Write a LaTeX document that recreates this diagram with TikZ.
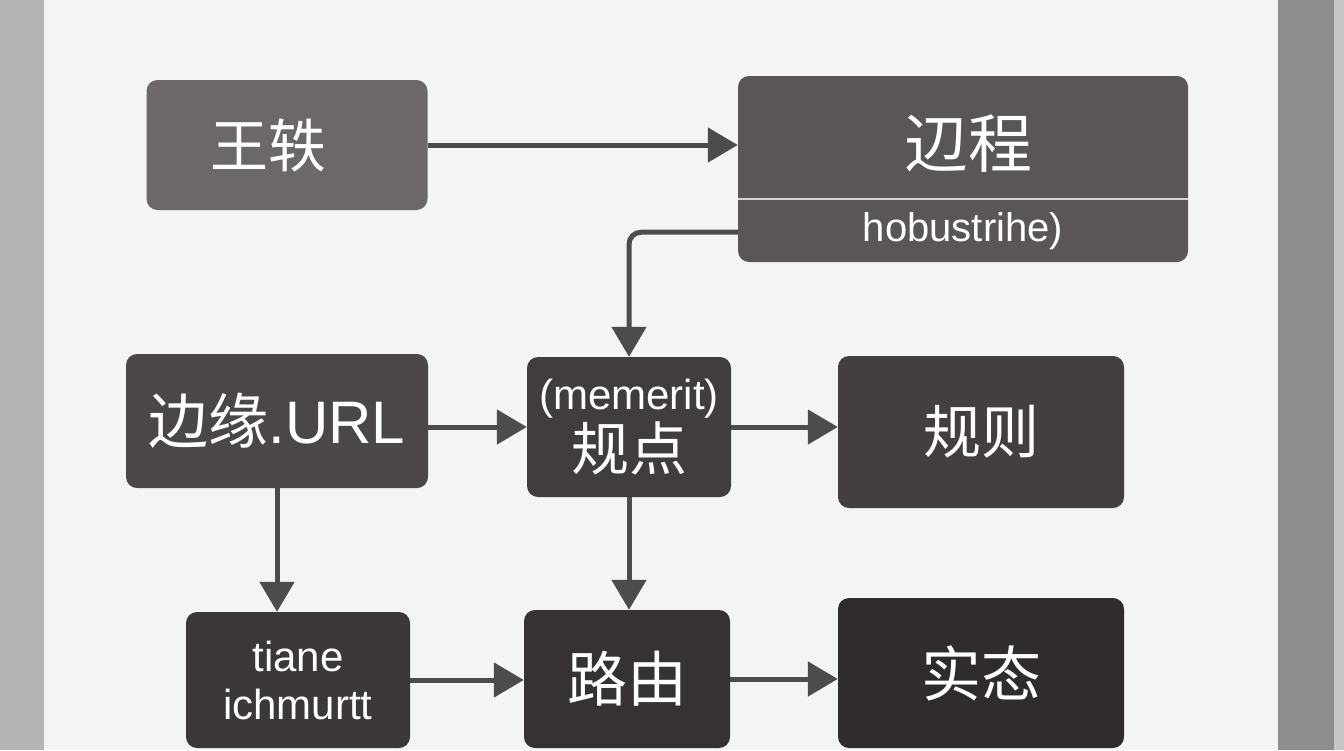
\documentclass[tikz,border=0pt]{standalone}
\usepackage{fontspec}
\setmainfont{Liberation Sans}
\newfontfamily\cjk{Noto Sans CJK SC}
\usetikzlibrary{arrows.meta}

\definecolor{paper}{HTML}{F4F4F3}
\definecolor{deskleft}{HTML}{B4B4B4}
\definecolor{deskright}{HTML}{8E8E8E}
\definecolor{deskedge}{HTML}{C6C6C6}
\definecolor{linkgray}{HTML}{4E4B4B}
\definecolor{boxa}{HTML}{6C6868}
\definecolor{boxb}{HTML}{5A5655}
\definecolor{boxc}{HTML}{4B4746}
\definecolor{boxd}{HTML}{413D3D}
\definecolor{boxe}{HTML}{443F3E}
\definecolor{boxf}{HTML}{3C3837}
\definecolor{boxg}{HTML}{363232}
\definecolor{boxh}{HTML}{302C2C}

\begin{document}
\begin{tikzpicture}[x=1pt,y=-1pt,
    box/.style={rectangle, rounded corners=11pt, inner sep=0pt, text=white, align=center},
    lbl/.style={inner sep=0pt, text=white, align=center},
    link/.style={line width=5pt, draw=linkgray, -{Triangle[length=30pt,width=34pt]}}]
    \useasboundingbox (0,0) rectangle (1344,750);
    % paper and desk
    \fill[deskleft] (0,0) rectangle (44,750);
    \fill[paper] (44,0) rectangle (1278,750);
    \fill[deskright] (1278,0) rectangle (1334,750);
    \fill[deskedge] (1334,0) rectangle (1344,750);

    \node[box, fill=boxa, minimum width=281pt, minimum height=130pt] (wang) at (287,145)
        {\cjk\fontsize{58}{60}\selectfont 王轶\hspace*{38pt}};
    \node[box, fill=boxb, minimum width=450pt, minimum height=186pt] (guocheng) at (963,169) {};
    \draw[line width=1.5pt, draw=white!75!boxb] ([yshift=-123pt]guocheng.north west) -- ([yshift=-123pt]guocheng.north east);
    \node[lbl] (guochengname) at ([xshift=5pt,yshift=-68pt]guocheng.north)
        {\cjk\fontsize{64}{66}\selectfont 辺程};
    \node[lbl] (guochengsub) at ([yshift=31pt]guocheng.south)
        {\fontsize{40}{44}\selectfont hobustrihe)};

    \node[box, fill=boxc, minimum width=302pt, minimum height=134pt] (bianyuan) at (277,421)
        {\fontsize{60}{62}\selectfont{\cjk 边缘}.URL};
    \node[box, fill=boxd, minimum width=204pt, minimum height=140pt] (guidian) at (629,427)
        {{\fontsize{42}{46}\selectfont (memerit)}\\[3pt]{\cjk\fontsize{58}{60}\selectfont 规点}};
    \node[box, fill=boxe, minimum width=286pt, minimum height=152pt] (guize) at (981,432)
        {\cjk\fontsize{58}{60}\selectfont 规则};

    \node[box, fill=boxf, minimum width=224pt, minimum height=136pt, font=\fontsize{42}{48}\selectfont] (tiane) at (298,680)
        {tiane\\ichmurtt};
    \node[box, fill=boxg, minimum width=206pt, minimum height=138pt] (luyou) at (627,679)
        {\cjk\fontsize{60}{62}\selectfont 路由};
    \node[box, fill=boxh, minimum width=286pt, minimum height=150pt] (shitai) at (981,673)
        {\cjk\fontsize{60}{62}\selectfont 实态};

    % connectors
    \draw[link] (wang.east) -- (wang.east -| guocheng.west);
    \draw[link, rounded corners=12pt] ([yshift=30pt]guocheng.south west) -| (guidian.north);
    \draw[link] (bianyuan.east |- guidian.west) -- (guidian.west);
    \draw[link] (guidian.east) -- (guidian.east -| guize.west);
    \draw[link] (bianyuan.south) -- (bianyuan.south |- tiane.north);
    \draw[link] (guidian.south) -- (guidian.south |- luyou.north);
    \draw[link] (tiane.east) -- (tiane.east -| luyou.west);
    \draw[link] (luyou.east) -- (luyou.east -| shitai.west);
\end{tikzpicture}
\end{document}
